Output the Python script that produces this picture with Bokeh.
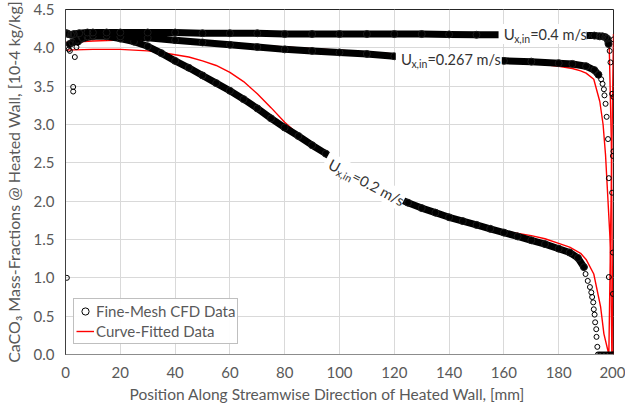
import math

from bokeh.embed import file_html
from bokeh.models import (CustomJSTickFormatter, FixedTicker, Label, Legend, LegendItem,
                          Range1d, Title)
from bokeh.plotting import figure
from bokeh.resources import INLINE

# ---------------- data ----------------
# Fine-mesh CFD wall mass fractions (dense part is drawn as a continuous band)
cfd_04_x = [0, 0.5, 1, 2, 3, 5, 8, 10, 15, 20, 30, 40, 50, 60, 70, 80, 90, 100, 110, 120,
            130, 140, 150, 160, 170, 180, 185, 190, 193, 195, 196, 197, 197.7, 198.2]
cfd_04_y = [4.19, 4.19, 4.18, 4.17, 4.18, 4.19, 4.20, 4.20, 4.20, 4.20, 4.20, 4.20, 4.19, 4.19,
            4.19, 4.18, 4.18, 4.18, 4.18, 4.18, 4.18, 4.175, 4.17, 4.17, 4.17, 4.17, 4.17, 4.16,
            4.16, 4.15, 4.15, 4.14, 4.12, 4.05]
cfd_04_tail_x = [198.6, 198.9, 200.0, 199.5, 200.0, 200.0, 199.8, 199.5, 199.8, 199.8, 199.9]
cfd_04_tail_y = [3.96, 3.81, 4.11, 3.40, 3.36, 2.65, 2.59, 2.11, 1.33, 0.79, 0.0]

cfd_0267_x = [1.5, 2.5, 4, 6, 8, 10, 15, 20, 30, 40, 50, 60, 70, 80, 90, 100, 110, 120, 130,
              140, 150, 160, 170, 180, 185, 190, 193, 194.5]
cfd_0267_y = [4.05, 4.07, 4.10, 4.13, 4.15, 4.16, 4.16, 4.15, 4.13, 4.10, 4.07, 4.04, 4.01,
              3.98, 3.96, 3.94, 3.92, 3.89, 3.87, 3.86, 3.84, 3.83, 3.82, 3.80, 3.79, 3.76,
              3.71, 3.65]
cfd_0267_tail_x = [195.5, 196.0, 196.5, 196.7, 197.1, 197.5, 198.0, 198.3, 198.3]
cfd_0267_tail_y = [3.59, 3.53, 3.46, 3.38, 3.27, 3.10, 2.81, 2.30, 1.01]

cfd_02_head_x = [0.5, 1.2, 1.6, 2.8, 2.8, 3.4, 4.0, 4.3]
cfd_02_head_y = [1.00, 3.98, 3.96, 3.49, 3.43, 3.88, 4.01, 4.07]
cfd_02_x = [4.5, 5, 7, 10, 15, 20, 25, 30, 35, 40, 45, 50, 55, 60, 65, 70, 75, 80, 85, 90, 95,
            100, 105, 110, 115, 120, 125, 130, 135, 140, 145, 150, 155, 160, 165, 170, 175,
            180, 184, 187, 189.2]
cfd_02_y = [4.08, 4.10, 4.13, 4.15, 4.15, 4.12, 4.08, 4.02, 3.93, 3.83, 3.74, 3.64, 3.54, 3.44,
            3.33, 3.21, 3.08, 2.96, 2.85, 2.73, 2.62, 2.50, 2.39, 2.28, 2.17, 2.06, 1.98, 1.91,
            1.85, 1.79, 1.74, 1.69, 1.64, 1.59, 1.54, 1.49, 1.44, 1.38, 1.33, 1.26, 1.14]
cfd_02_tail_x = [189.8, 190.6, 191.4, 191.9, 192.2, 192.6, 192.8, 193.1, 193.3, 193.7, 193.8,
                 194.1, 194.3, 194.8, 195.3, 195.8, 196.3, 196.8, 197.3, 197.8, 198.3, 198.8,
                 199.3, 199.8]
cfd_02_tail_y = [1.05, 0.96, 0.88, 0.81, 0.75, 0.68, 0.59, 0.52, 0.42, 0.33, 0.23, 0.10, 0.0,
                 0.0, 0.0, 0.0, 0.0, 0.0, 0.0, 0.0, 0.0, 0.0, 0.0, 0.0]

# Curve-fitted profiles
fit_04_x = [0, 20, 60, 100, 140, 180, 196, 197.5, 198.4, 199.2, 199.5, 199.8]
fit_04_y = [4.18, 4.19, 4.19, 4.18, 4.175, 4.17, 4.16, 4.15, 4.09, 2.79, 1.40, 0.0]

fit_0267_x = [0, 5, 10, 20, 30, 40, 50, 60, 70, 80, 90, 100, 120, 140, 160, 170, 180, 185,
              188, 190, 192.8, 195, 196.2, 197.1, 198.0, 198.9, 199.3, 199.4]
fit_0267_y = [4.07, 4.08, 4.09, 4.10, 4.10, 4.09, 4.07, 4.05, 4.03, 4.01, 3.99, 3.97, 3.92,
              3.87, 3.83, 3.80, 3.76, 3.73, 3.70, 3.67, 3.59, 3.30, 3.00, 2.60, 2.00, 1.40,
              0.34, 0.0]

fit_02_x = [0, 10, 20, 25, 30, 35, 40, 45, 50, 55, 60, 65, 70, 75, 80, 85, 90, 100, 110, 120,
            130, 140, 150, 160, 170, 175, 180, 184, 188, 190, 192.8, 195.3, 196.5, 198.3, 200]
fit_02_y = [3.97, 3.98, 3.98, 3.97, 3.96, 3.94, 3.91, 3.88, 3.83, 3.77, 3.68, 3.56, 3.40, 3.22,
            3.03, 2.87, 2.72, 2.48, 2.26, 2.05, 1.91, 1.79, 1.69, 1.61, 1.55, 1.51, 1.45, 1.40,
            1.32, 1.24, 1.05, 0.62, 0.27, 0.0, 4.18]

x_ticks = [0, 20, 40, 60, 80, 100, 120, 140, 160, 180, 200]
y_ticks = [0.0, 0.5, 1.0, 1.5, 2.0, 2.5, 3.0, 3.5, 4.0, 4.5]

# inlet-velocity annotations: (value text, x, y, angle in degrees, box width px)
velocity_labels = [
    ("=0.4 m/s", 159.9, 4.18, 0.0, 88),
    ("=0.267 m/s", 122.4, 3.85, 0.0, 106),
    ("=0.2 m/s", 96.5, 2.50, -27.9, 88),
]

# ---------------- canvas geometry ----------------
W, H = 625, 417
B_LEFT, B_RIGHT, B_TOP, B_BOTTOM = 64, 12, 9, 63
X0, X1, Y0, Y1 = 0, 200, 0, 4.5
PX_X = (W - B_LEFT - B_RIGHT) / (X1 - X0)   # pixels per mm
PX_Y = (H - B_TOP - B_BOTTOM) / (Y1 - Y0)   # pixels per unit

FONT = "Lato"
GREY = "#595959"

p = figure(width=W, height=H, output_backend="svg", toolbar_location=None,
           x_range=Range1d(X0, X1), y_range=Range1d(Y0, Y1),
           min_border_left=B_LEFT, min_border_right=B_RIGHT,
           min_border_top=B_TOP, min_border_bottom=B_BOTTOM)
p.background_fill_color = "white"
p.border_fill_color = "white"
p.outline_line_color = "#262626"
p.outline_line_width = 1

for ax in (p.xaxis[0], p.yaxis[0]):
    ax.major_tick_in = 0
    ax.major_tick_out = 0
    ax.minor_tick_in = 0
    ax.minor_tick_out = 0
    ax.major_label_text_font = FONT
    ax.major_label_text_font_size = "15px"
    ax.major_label_text_color = GREY

p.xaxis.ticker = FixedTicker(ticks=x_ticks)
p.yaxis.ticker = FixedTicker(ticks=y_ticks)
p.yaxis.formatter = CustomJSTickFormatter(code="return tick.toFixed(1);")
p.xaxis.major_label_standoff = 12
p.yaxis.major_label_standoff = 11
p.yaxis.axis_label_standoff = 8
p.xaxis.axis_line_color = "#8c8c8c"
p.yaxis.axis_line_color = "#404040"
p.yaxis.axis_label = "CaCO\u2083 Mass-Fractions @ Heated Wall, [10-4 kg/kg]"
p.yaxis.axis_label_text_font = FONT
p.yaxis.axis_label_text_font_size = "16px"
p.yaxis.axis_label_text_font_style = "normal"
p.yaxis.axis_label_text_color = GREY

# x title is centred on the chart area rather than on the frame
p.add_layout(Title(text="Position Along Streamwise Direction of Heated Wall, [mm]",
                   align="left", offset=64, standoff=4, text_font=FONT,
                   text_font_size="15.5px", text_font_style="normal",
                   text_color=GREY), "below")

p.xgrid.ticker = FixedTicker(ticks=x_ticks)
p.ygrid.ticker = FixedTicker(ticks=y_ticks)
p.grid.grid_line_color = "#d9d9d9"
p.grid.grid_line_width = 1

# ---------------- fitted curves (underneath the CFD points) ----------------
fit_renderer = None
for xs, ys in ((fit_02_x, fit_02_y), (fit_0267_x, fit_0267_y), (fit_04_x, fit_04_y)):
    r = p.line(xs, ys, line_color="#ff0000", line_width=1.4)
    fit_renderer = fit_renderer or r

# ---------------- CFD data ----------------
BAND_W = 7
MARK = 7
for xs, ys in ((cfd_02_x, cfd_02_y), (cfd_0267_x, cfd_0267_y), (cfd_04_x, cfd_04_y)):
    p.line(xs, ys, line_color="black", line_width=BAND_W, line_join="round", line_cap="round")
    p.scatter(xs, ys, marker="circle", size=MARK, fill_color=None,
              line_color="#1a1a1a", line_width=1)

circle_renderer = None
for xs, ys in ((cfd_02_head_x, cfd_02_head_y), (cfd_02_tail_x, cfd_02_tail_y),
               (cfd_0267_tail_x, cfd_0267_tail_y), (cfd_04_tail_x, cfd_04_tail_y)):
    r = p.scatter(xs, ys, marker="circle", size=MARK - 2, fill_color=None,
                  line_color="black", line_width=1)
    circle_renderer = circle_renderer or r

# ---------------- velocity annotations ----------------
def add_velocity_label(rest, x, y, angle_deg, box_w):
    th = math.radians(angle_deg)
    ux, uy = math.cos(th), math.sin(th)
    dx, dy = math.sin(th), -math.cos(th)  # "down" relative to the text
    # white box behind the whole annotation, centred along the text direction
    mid = box_w / 2 - 5
    p.rect(x=x + mid * ux / PX_X, y=y + mid * uy / PX_Y, width=box_w, height=20,
           width_units="screen", height_units="screen", angle=th,
           fill_color="white", line_color=None)
    common = dict(x=x, y=y, angle=th, angle_units="rad", text_font=FONT,
                  text_color="#333333", text_baseline="middle", text_align="left")
    parts = [
        ("U", 0.0, 0.0, "15px"),
        ("x,in", 10.5, 4.5, "10.5px"),
        (rest, 26.5, 0.0, "14.5px"),
    ]
    for txt, along, down, size in parts:
        p.add_layout(Label(text=txt, x_offset=along * ux + down * dx,
                           y_offset=along * uy + down * dy,
                           text_font_size=size, **common))

for rest, lx, ly, ang, bw in velocity_labels:
    add_velocity_label(rest, lx, ly, ang, bw)

# ---------------- legend ----------------
legend = Legend(items=[LegendItem(label="Fine-Mesh CFD Data", renderers=[circle_renderer]),
                       LegendItem(label="Curve-Fitted Data", renderers=[fit_renderer])],
                location=(8, 10))
legend.label_text_font = FONT
legend.label_text_font_size = "15px"
legend.label_text_color = GREY
legend.border_line_color = "#7f7f7f"
legend.border_line_width = 1
legend.background_fill_color = "white"
legend.padding = 2
legend.spacing = 0
legend.margin = 0
legend.label_height = 20
legend.glyph_height = 20
legend.glyph_width = 18
legend.label_standoff = 2
p.add_layout(legend)

open("out.html", "w").write(file_html(p, INLINE))
